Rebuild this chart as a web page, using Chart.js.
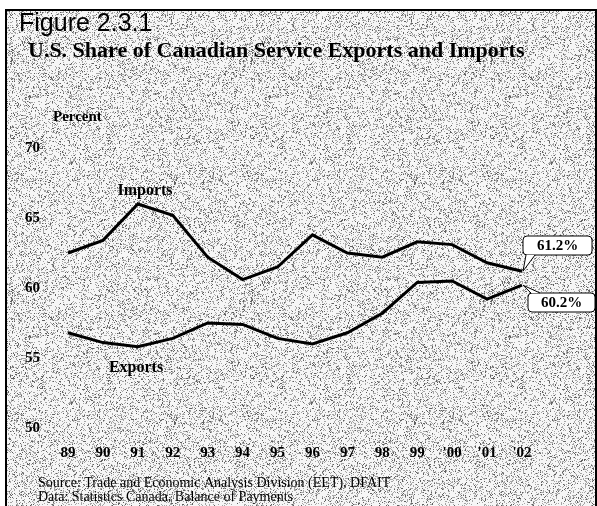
<!DOCTYPE html>
<html lang="en">
<head>
  <meta charset="UTF-8" />
  <title>Figure 2.3.1</title>
  <script src="https://cdn.jsdelivr.net/npm/chart.js"></script>
  <style>
    body { margin: 0; background: #fff; }
    #wrap { position: relative; width: 597px; height: 506px; }
    canvas { display: block; }
  </style>
</head>
<body>
<div id="wrap"><canvas id="grafico" width="597" height="506"></canvas></div>
<script>
  // data
  const years = ['89', '90', '91', '92', '93', '94', '95', '96', '97', '98', '99', "'00", "'01", "'02"];
  const imports = [62.5, 63.4, 66.0, 65.2, 62.2, 60.6, 61.5, 63.8, 62.5, 62.2, 63.3, 63.1, 61.8, 61.2];
  const exports = [56.8, 56.1, 55.8, 56.4, 57.5, 57.4, 56.4, 56.0, 56.8, 58.2, 60.4, 60.5, 59.2, 60.2];
  const yTicks = [50, 55, 60, 65, 70];

  const serif = '"Liberation Serif", "Times New Roman", serif';

  // speckled grey background, like the scanned halftone (fixed hash, no randomness)
  function hash(n) {
    n = (n ^ 61) ^ (n >>> 16);
    n = Math.imul(n, 9);
    n = n ^ (n >>> 4);
    n = Math.imul(n, 0x27d4eb2d);
    n = n ^ (n >>> 15);
    return n >>> 0;
  }

  function makeTexture() {
    const size = 240;
    const c = document.createElement('canvas');
    c.width = size; c.height = size;
    const g = c.getContext('2d');
    const img = g.createImageData(size, size);
    for (let y = 0; y < size; y++) {
      for (let x = 0; x < size; x++) {
        const r = hash(y * size + x + 12345) % 100;
        let v = 246;
        if (r < 19) v = 165;
        else if (r < 26) v = 95;
        const i = (y * size + x) * 4;
        img.data[i] = img.data[i + 1] = img.data[i + 2] = v;
        img.data[i + 3] = 255;
      }
    }
    g.putImageData(img, 0, 0);
    return c;
  }

  function roundBox(ctx, x, y, w, h, r) {
    ctx.beginPath();
    ctx.moveTo(x + r, y);
    ctx.lineTo(x + w - r, y);
    ctx.quadraticCurveTo(x + w, y, x + w, y + r);
    ctx.lineTo(x + w, y + h - r);
    ctx.quadraticCurveTo(x + w, y + h, x + w - r, y + h);
    ctx.lineTo(x + r, y + h);
    ctx.quadraticCurveTo(x, y + h, x, y + h - r);
    ctx.lineTo(x, y + r);
    ctx.quadraticCurveTo(x, y, x + r, y);
    ctx.closePath();
  }

  const fondo = {
    id: 'fondo',
    beforeDraw(chart) {
      const ctx = chart.ctx;
      ctx.save();
      ctx.fillStyle = '#fff';
      ctx.fillRect(0, 0, chart.width, chart.height);
      ctx.fillStyle = ctx.createPattern(makeTexture(), 'repeat');
      ctx.fillRect(7, 11, chart.width - 8, chart.height - 11);
      // frame
      ctx.strokeStyle = '#000';
      ctx.lineWidth = 2;
      ctx.beginPath();
      ctx.moveTo(6, chart.height);
      ctx.lineTo(6, 10);
      ctx.lineTo(chart.width - 1, 10);
      ctx.lineTo(chart.width - 1, chart.height);
      ctx.stroke();
      ctx.restore();
    }
  };

  const textos = {
    id: 'textos',
    afterDraw(chart) {
      const ctx = chart.ctx;
      const xs = chart.scales.x, ys = chart.scales.y;
      ctx.save();
      ctx.fillStyle = '#000';
      ctx.textBaseline = 'alphabetic';
      ctx.textAlign = 'left';
      ctx.font = '25px "Liberation Sans", Arial, sans-serif';
      ctx.fillText('Figure 2.3.1', 19, 31);
      ctx.font = 'bold 22px ' + serif;
      ctx.fillText('U.S. Share of Canadian Service Exports and Imports', 28, 57);
      ctx.font = 'bold 15px ' + serif;
      ctx.fillText('Percent', 53, 121);

      ctx.textAlign = 'center';
      ctx.textBaseline = 'middle';
      ctx.font = 'bold 16px ' + serif;
      ctx.fillText('Imports', 145, 191);
      ctx.fillText('Exports', 136, 368);

      ctx.textAlign = 'left';
      ctx.textBaseline = 'alphabetic';
      ctx.font = '14px ' + serif;
      ctx.fillText('Source: Trade and Economic Analysis Division (EET), DFAIT', 38, 487);
      ctx.fillText('Data: Statistics Canada, Balance of Payments', 38, 501);

      // callouts on the last values
      const last = years.length - 1;
      const px = xs.getPixelForValue(last);
      const callouts = [
        { y: ys.getPixelForValue(imports[last]), val: imports[last], bx: 523, by: 236, w: 69, up: false },
        { y: ys.getPixelForValue(exports[last]), val: exports[last], bx: 528, by: 293, w: 67, up: true }
      ];
      ctx.lineWidth = 1;
      ctx.strokeStyle = '#000';
      callouts.forEach(c => {
        const h = 19;
        roundBox(ctx, c.bx, c.by, c.w, h, 4);
        ctx.fillStyle = '#fff';
        ctx.fill();
        ctx.stroke();
        // pointer
        const ey = c.up ? c.by : c.by + h;
        ctx.beginPath();
        ctx.moveTo(c.bx + 3, ey);
        ctx.lineTo(px + 1, c.y);
        ctx.lineTo(c.bx + 12, ey);
        ctx.closePath();
        ctx.fill();
        ctx.beginPath();
        ctx.moveTo(c.bx + 3, ey);
        ctx.lineTo(px + 1, c.y);
        ctx.lineTo(c.bx + 12, ey);
        ctx.stroke();
        ctx.fillStyle = '#000';
        ctx.textAlign = 'center';
        ctx.textBaseline = 'middle';
        ctx.font = 'bold 15px ' + serif;
        ctx.fillText(c.val.toFixed(1) + '%', c.bx + c.w / 2, c.by + h / 2 + 1);
      });
      ctx.restore();
    }
  };

  new Chart(document.getElementById('grafico'), {
    type: 'line',
    data: {
      labels: years,
      datasets: [
        { label: 'Imports', data: imports, borderColor: '#000', borderWidth: 3, pointRadius: 0, tension: 0 },
        { label: 'Exports', data: exports, borderColor: '#000', borderWidth: 3, pointRadius: 0, tension: 0 }
      ]
    },
    options: {
      responsive: false,
      animation: false,
      layout: { padding: { left: 0, top: 148, right: 75, bottom: 0 } },
      plugins: { legend: { display: false }, tooltip: { enabled: false } },
      scales: {
        x: {
          offset: false,
          grid: { display: false, drawTicks: false },
          border: { display: false },
          ticks: { color: '#000', font: { family: serif, size: 15, weight: 'bold' }, padding: 16, maxRotation: 0, autoSkip: false },
          afterFit(scale) { scale.height = 78; }
        },
        y: {
          min: 50, max: 70,
          afterBuildTicks(scale) { scale.ticks = yTicks.map(v => ({ value: v })); },
          grid: { display: false, drawTicks: false },
          border: { display: false },
          ticks: { color: '#000', font: { family: serif, size: 15, weight: 'bold' }, padding: 28 },
          afterFit(scale) { scale.width = 68; }
        }
      }
    },
    plugins: [fondo, textos]
  });
</script>
</body>
</html>
